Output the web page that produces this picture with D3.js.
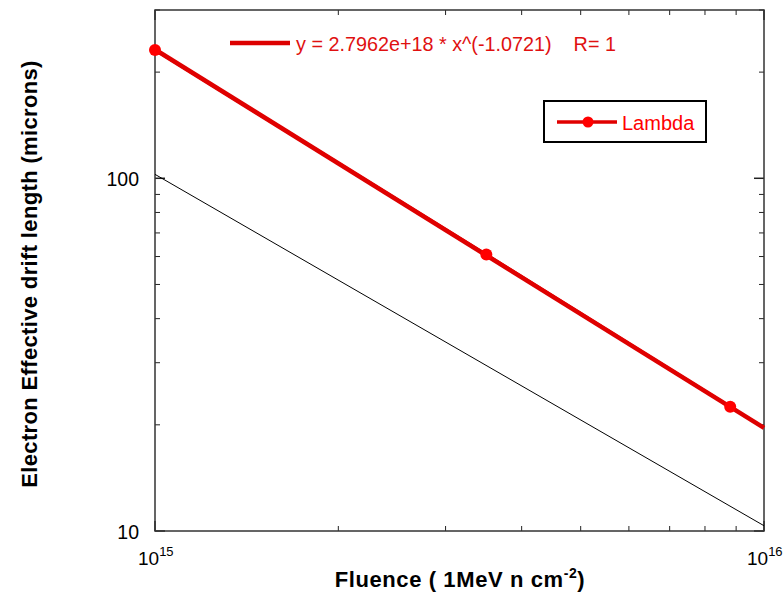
<!DOCTYPE html>
<html>
<head>
<meta charset="utf-8">
<script src="https://cdn.jsdelivr.net/npm/d3@7"></script>
<style>
  body { margin: 0; background: #fff; }
  svg { font-family: "Liberation Sans", Arial, sans-serif; }
</style>
</head>
<body>
<svg id="chart" width="784" height="596"></svg>
<script>
// measured data (Lambda)
const fluence = [1e15, 3.5e15, 8.8e15];
const lambda = [231, 60.8, 22.5];

// power-law fit, endpoints
const fitX = [1e15, 1e16];
const fitY = [231.8, 19.6];

// thin reference line
const refX = [1e15, 1e16];
const refY = [102.6, 10.35];

const xDomain = [1e15, 1e16];
const yDomain = [10, 300];
const yTickLabels = [10, 100];

const fitLabel = 'y = 2.7962e+18 * x^(-1.0721)    R= 1';

const svg = d3.select('#chart');
const margin = { left: 155, right: 20, top: 10, bottom: 65 };
const width = 784 - margin.left - margin.right;
const height = 596 - margin.top - margin.bottom;

const x = d3.scaleLog().domain(xDomain).range([0, width]);
const y = d3.scaleLog().domain(yDomain).range([height, 0]);

const g = svg.append('g').attr('transform', `translate(${margin.left},${margin.top})`);

// minor / major ticks
const xMinor = [];
for (let m = 2; m <= 9; m++) xMinor.push(m * 1e15);
const yMinor = [];
for (let m = 2; m <= 9; m++) yMinor.push(m * 10);
yMinor.push(200, 300);

const tickCol = '#222';
// bottom & top ticks
[0, height].forEach(y0 => {
    const dir = y0 === 0 ? 1 : -1;
    g.selectAll(null).data(xMinor).enter().append('line')
        .attr('x1', d => x(d)).attr('x2', d => x(d))
        .attr('y1', y0).attr('y2', y0 + dir * 5)
        .attr('stroke', tickCol).attr('stroke-width', 1);
    g.selectAll(null).data(xDomain).enter().append('line')
        .attr('x1', d => x(d)).attr('x2', d => x(d))
        .attr('y1', y0).attr('y2', y0 + dir * 10)
        .attr('stroke', tickCol).attr('stroke-width', 1.5);
});
// left & right ticks
[0, width].forEach(x0 => {
    const dir = x0 === 0 ? 1 : -1;
    g.selectAll(null).data(yMinor).enter().append('line')
        .attr('y1', d => y(d)).attr('y2', d => y(d))
        .attr('x1', x0).attr('x2', x0 + dir * 5)
        .attr('stroke', tickCol).attr('stroke-width', 1);
    g.selectAll(null).data(yTickLabels).enter().append('line')
        .attr('y1', d => y(d)).attr('y2', d => y(d))
        .attr('x1', x0).attr('x2', x0 + dir * 10)
        .attr('stroke', tickCol).attr('stroke-width', 1.5);
});

// frame
g.append('rect')
    .attr('width', width).attr('height', height)
    .attr('fill', 'none').attr('stroke', '#333').attr('stroke-width', 1.5);

// reference line
const line = d3.line().x(d => x(d[0])).y(d => y(d[1]));
g.append('path')
    .datum(d3.zip(refX, refY))
    .attr('d', line)
    .attr('fill', 'none').attr('stroke', '#000').attr('stroke-width', 1);

// fit line
g.append('path')
    .datum(d3.zip(fitX, fitY))
    .attr('d', line)
    .attr('fill', 'none').attr('stroke', '#dd0000').attr('stroke-width', 4.5);

// data line + markers
g.append('path')
    .datum(d3.zip(fluence, lambda))
    .attr('d', line)
    .attr('fill', 'none').attr('stroke', '#e00000').attr('stroke-width', 3);

g.selectAll('circle.pt')
    .data(d3.zip(fluence, lambda))
    .enter().append('circle')
    .attr('class', 'pt')
    .attr('cx', d => x(d[0])).attr('cy', d => y(d[1]))
    .attr('r', 6).attr('fill', '#f00');

// y tick labels
g.selectAll('text.ylab')
    .data(yTickLabels)
    .enter().append('text')
    .attr('class', 'ylab')
    .attr('x', -16).attr('y', d => y(d) + 7.5)
    .attr('text-anchor', 'end')
    .attr('font-size', 19.5)
    .text(d => d);

// x tick labels 10^n
g.selectAll('text.xlab')
    .data(xDomain)
    .enter().append('text')
    .attr('class', 'xlab')
    .attr('x', d => x(d) - 17).attr('y', height + 34)
    .attr('font-size', 19)
    .each(function(d) {
        const t = d3.select(this);
        t.append('tspan').text('10');
        t.append('tspan').attr('font-size', 13).attr('dy', -9)
            .text(Math.round(Math.log10(d)));
    });

// axis titles
svg.append('text')
    .attr('x', 460).attr('y', 587)
    .attr('text-anchor', 'middle')
    .attr('font-size', 22).attr('font-weight', 'bold')
    .attr('letter-spacing', 0.6)
    .each(function() {
        const t = d3.select(this);
        t.append('tspan').text('Fluence ( 1MeV n cm');
        t.append('tspan').attr('font-size', 14).attr('dy', -9).text('-2');
        t.append('tspan').attr('dy', 9).text(')');
    });

svg.append('text')
    .attr('transform', 'translate(37,274) rotate(-90)')
    .attr('text-anchor', 'middle')
    .attr('font-size', 22).attr('font-weight', 'bold')
    .attr('letter-spacing', 0.35)
    .text('Electron Effective drift length (microns)');

// fit legend
svg.append('line')
    .attr('x1', 230).attr('x2', 290).attr('y1', 43).attr('y2', 43)
    .attr('stroke', '#dd0000').attr('stroke-width', 4.5);
svg.append('text')
    .attr('x', 296).attr('y', 51)
    .attr('font-size', 19.8).attr('fill', '#e01010')
    .attr('xml:space', 'preserve')
    .style('white-space', 'pre')
    .text(fitLabel);

// data legend
const lg = svg.append('g');
lg.append('rect')
    .attr('x', 544).attr('y', 101).attr('width', 162).attr('height', 41)
    .attr('fill', '#fff').attr('stroke', '#000').attr('stroke-width', 2);
lg.append('line')
    .attr('x1', 557).attr('x2', 617).attr('y1', 122).attr('y2', 122)
    .attr('stroke', '#e00000').attr('stroke-width', 3.5);
lg.append('circle').attr('cx', 588).attr('cy', 122).attr('r', 5.5).attr('fill', '#f00');
lg.append('text')
    .attr('x', 622).attr('y', 130)
    .attr('font-size', 20).attr('fill', '#f00')
    .text('Lambda');
</script>
</body>
</html>
